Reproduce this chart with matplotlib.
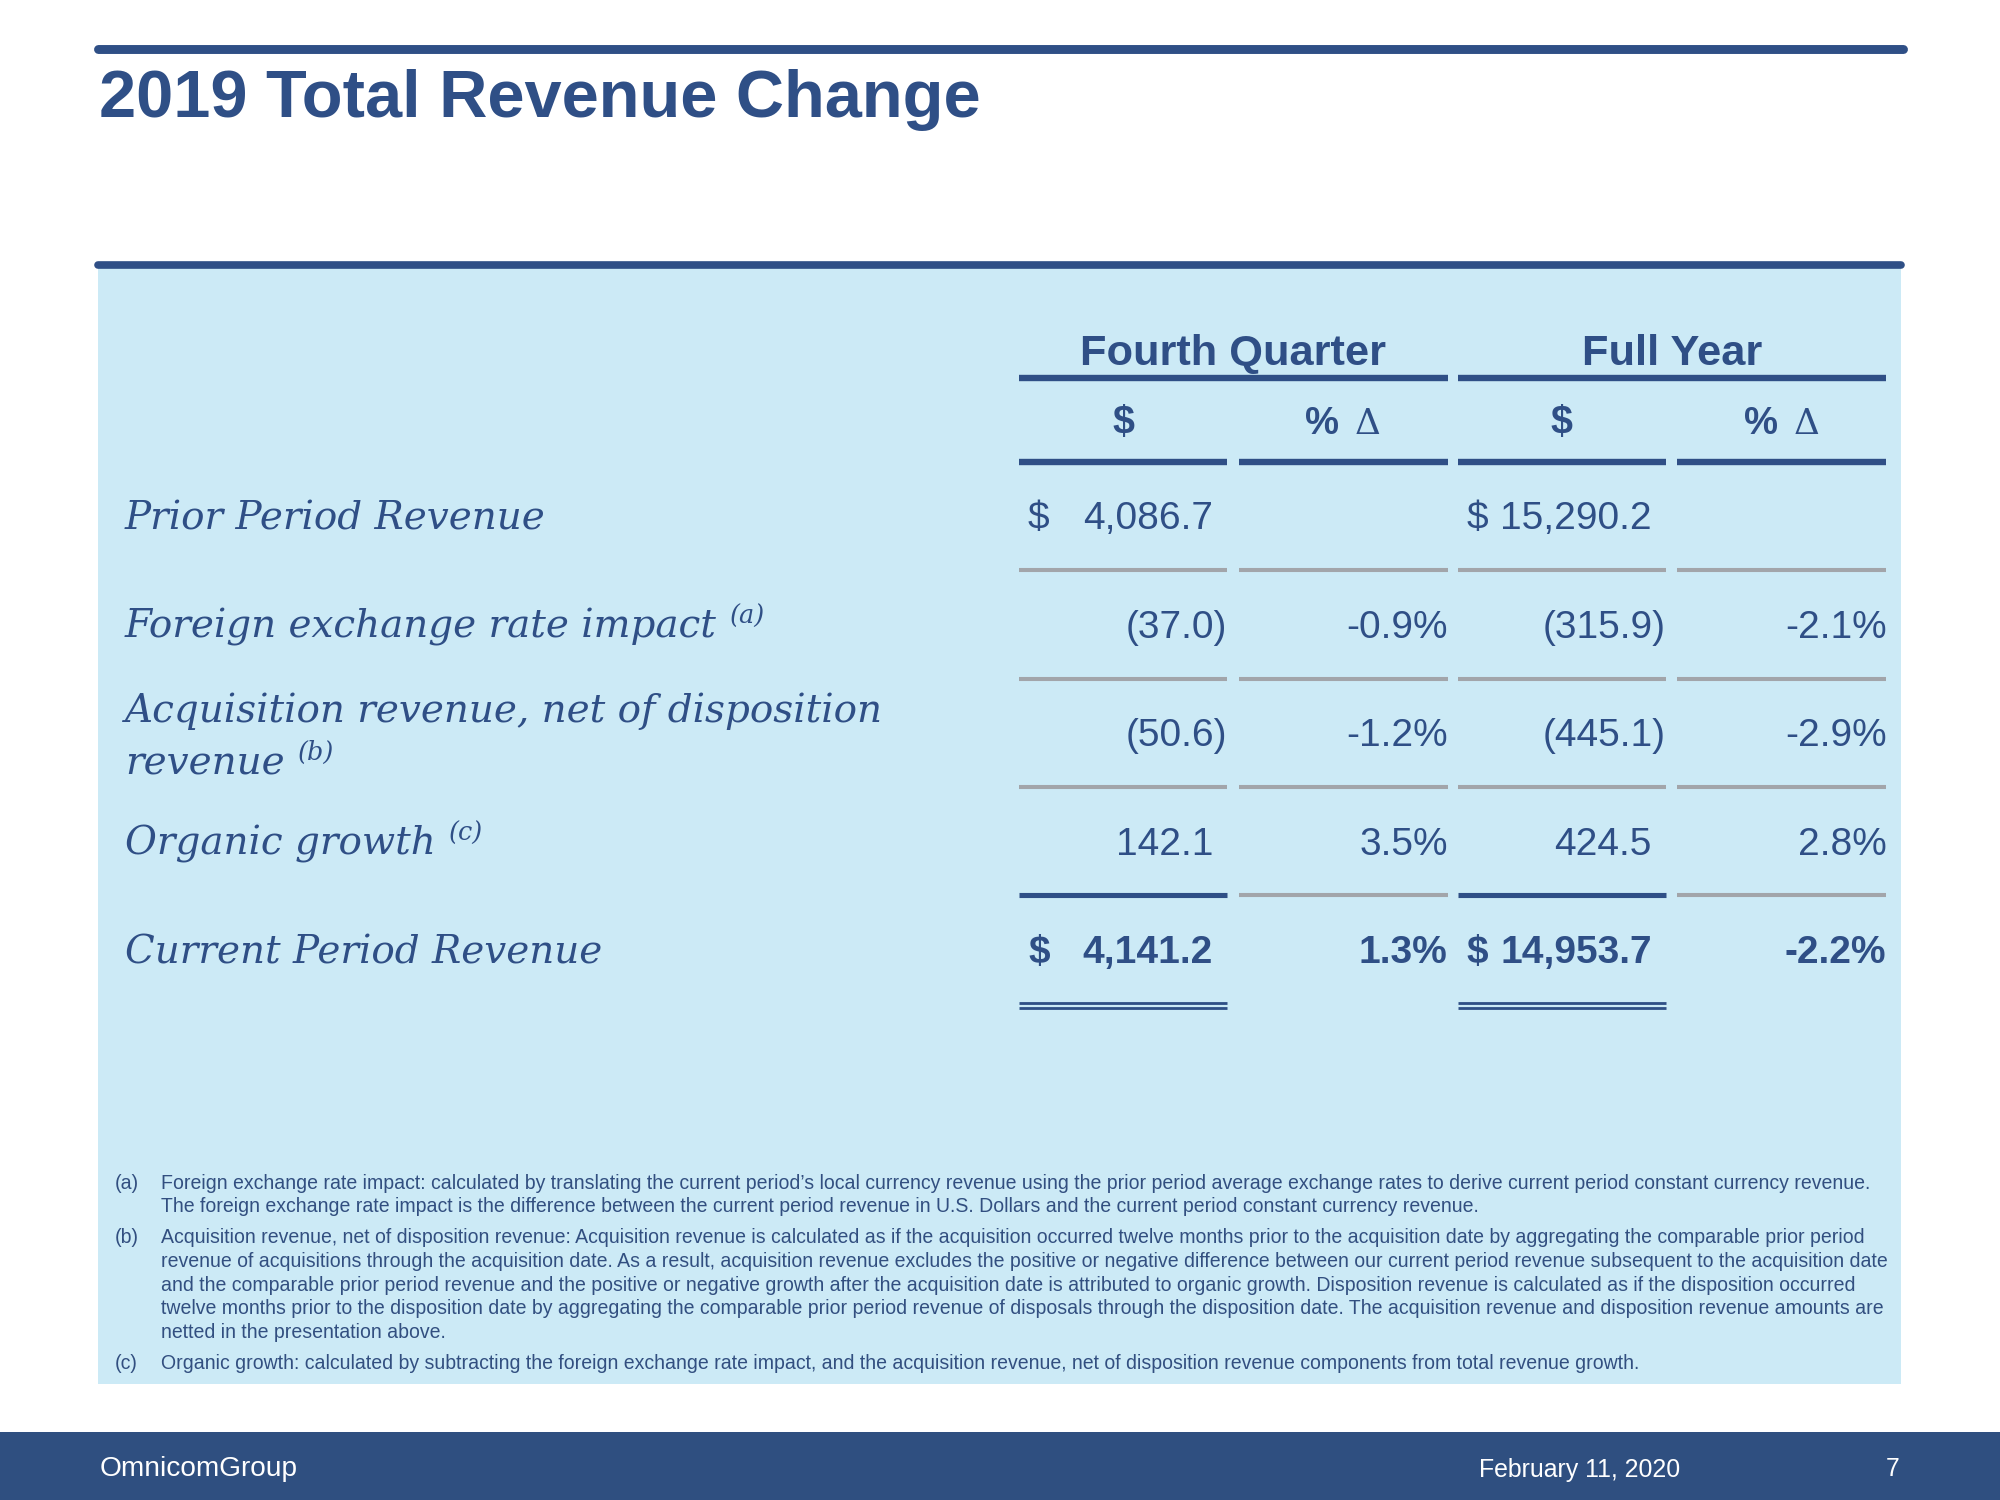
import matplotlib
matplotlib.use("Agg")
import matplotlib.pyplot as plt
from matplotlib.patches import Rectangle

# ---------------- data ----------------
title = "2019 Total Revenue Change"
period_headers = ["Fourth Quarter", "Full Year"]
sub_headers = ["$", "$"]
row_labels = ["Prior Period Revenue",
              "Foreign exchange rate impact",
              "Acquisition revenue, net of disposition\nrevenue",
              "Organic growth",
              "Current Period Revenue"]
row_notes = ["", "(a)", "(b)", "(c)", ""]
q4_dollars = [4086.7, -37.0, -50.6, 142.1, 4141.2]
q4_pct = [None, -0.9, -1.2, 3.5, 1.3]
fy_dollars = [15290.2, -315.9, -445.1, 424.5, 14953.7]
fy_pct = [None, -2.1, -2.9, 2.8, -2.2]
footnote_marks = ["(a)", "(b)", "(c)"]
footnote_lines = [
    ["Foreign exchange rate impact: calculated by translating the current period\u2019s local currency revenue using the prior period average exchange rates to derive current period constant currency revenue.",
     "The foreign exchange rate impact is the difference between the current period revenue in U.S. Dollars and the current period constant currency revenue."],
    ["Acquisition revenue, net of disposition revenue: Acquisition revenue is calculated as if the acquisition occurred twelve months prior to the acquisition date by aggregating the comparable prior period",
     "revenue of acquisitions through the acquisition date. As a result, acquisition revenue excludes the positive or negative difference between our current period revenue subsequent to the acquisition date",
     "and the comparable prior period revenue and the positive or negative growth after the acquisition date is attributed to organic growth. Disposition revenue is calculated as if the disposition occurred",
     "twelve months prior to the disposition date by aggregating the comparable prior period revenue of disposals through the disposition date. The acquisition revenue and disposition revenue amounts are",
     "netted in the presentation above."],
    ["Organic growth: calculated by subtracting the foreign exchange rate impact, and the acquisition revenue, net of disposition revenue components from total revenue growth."],
]
footer_left = "OmnicomGroup"
footer_date = "February 11, 2020"
page_number = "7"

# ---------------- style ----------------
NAVY = "#2F4F86"
PANEL = "#CCEAF6"
GRAY = "#A2A5AA"
FOOT = "#324F80"
SANS = ["Liberation Sans", "DejaVu Sans"]
SERIF = ["DejaVu Serif"]
W, H = 1568, 1176
K = 2000 / W * 0.72  # display px -> points


def pt(px):
    return px * K


fig = plt.figure(figsize=(20, 15), dpi=100)
ax = fig.add_axes([0, 0, 1, 1])
ax.set_xlim(0, W)
ax.set_ylim(H, 0)
ax.axis("off")

# top bars
ax.plot([77, 1492], [38.5, 38.5], color=NAVY, lw=pt(7), solid_capstyle="round")
ax.text(78, 92, title, fontsize=pt(52.3), fontweight="bold", color=NAVY,
        family=SANS, ha="left", va="baseline")

# panel
ax.add_patch(Rectangle((77, 210), 1413, 875, facecolor=PANEL, edgecolor="none", zorder=0))
ax.plot([77, 1490], [208, 208], color=NAVY, lw=pt(6), solid_capstyle="round")

# column geometry
spans = [(799, 962), (971, 1135), (1143, 1306), (1315, 1479)]
group_spans = [(799, 1135), (1143, 1479)]
row_y = [404, 489, 574, 659, 744]
sep_y = [447, 532, 617, 702]


def seg(x0, x1, y, color, lw):
    ax.plot([x0, x1], [y, y], color=color, lw=pt(lw), solid_capstyle="butt")


for (a, b), name in zip(group_spans, period_headers):
    ax.text((a + b) / 2, 286, name, fontsize=pt(34), fontweight="bold", color=NAVY,
            family=SANS, ha="center", va="baseline")
    seg(a, b, 296, NAVY, 5)

for i, (a, b) in enumerate(spans):
    seg(a, b, 362, NAVY, 5)
    cx = (a + b) / 2
    if i % 2 == 0:
        ax.text(cx, 340, sub_headers[i // 2], fontsize=pt(31), fontweight="bold",
                color=NAVY, family=SANS, ha="center", va="baseline")
    else:
        ax.text(cx - 3, 340, "%", fontsize=pt(30), fontweight="bold",
                color=NAVY, family=SANS, ha="right", va="baseline")
        ax.text(cx + 9, 340, "\u0394", fontsize=pt(28), color=NAVY,
                family=["DejaVu Serif"], ha="left", va="baseline")

for j, y in enumerate(sep_y):
    for i, (a, b) in enumerate(spans):
        if j == 3 and i % 2 == 0:
            seg(a, b, y, NAVY, 4)
        else:
            seg(a, b, y, GRAY, 3.2)

for i in (0, 2):
    a, b = spans[i]
    seg(a, b, 786, NAVY, 2.2)
    seg(a, b, 790.5, NAVY, 2.2)

# row labels
fig.canvas.draw()
renderer = fig.canvas.get_renderer()
inv = ax.transData.inverted()
for k, (lab, note) in enumerate(zip(row_labels, row_notes)):
    lines = lab.split("\n")
    if len(lines) == 1:
        bases = [row_y[k] + 11]
    else:
        bases = [row_y[k] - 8, row_y[k] + 33]
    t = None
    for ln, yb in zip(lines, bases):
        t = ax.text(98, yb, ln, fontsize=pt(30.5), style="italic", color=NAVY,
                    family=SERIF, ha="left", va="baseline")
    if note:
        bb = t.get_window_extent(renderer=renderer)
        xr = inv.transform((bb.x1, bb.y0))[0]
        ax.text(xr + 10, bases[-1] - 11, note, fontsize=pt(20), style="italic",
                color=NAVY, family=SERIF, ha="left", va="baseline")


def fmt_num(v):
    s = f"{abs(v):,.1f}"
    return f"({s})" if v < 0 else s


# values
for k in range(len(row_y)):
    yb = row_y[k] + 11
    bold = "bold" if k == len(row_y) - 1 else "normal"
    for ci, vals in ((0, q4_dollars), (2, fy_dollars)):
        v = vals[k]
        a, b = spans[ci]
        xr = b if v < 0 else b - 11
        ax.text(xr, yb, fmt_num(v), fontsize=pt(30.5), fontweight=bold, color=NAVY,
                family=SANS, ha="right", va="baseline")
        if k in (0, len(row_y) - 1):
            ax.text(a + 7, yb, "$", fontsize=pt(30.5), fontweight=bold, color=NAVY,
                    family=SANS, ha="left", va="baseline")
    for ci, vals in ((1, q4_pct), (3, fy_pct)):
        v = vals[k]
        if v is None:
            continue
        a, b = spans[ci]
        ax.text(b, yb, f"{v:.1f}%", fontsize=pt(30.5), fontweight=bold, color=NAVY,
                family=SANS, ha="right", va="baseline")

# footnotes
fy0 = 932
step = 18.6
y = fy0
for mark, lines in zip(footnote_marks, footnote_lines):
    ax.text(90, y, mark, fontsize=pt(15.3), color=FOOT, family=SANS,
            ha="left", va="baseline")
    for ln in lines:
        ax.text(126, y, ln, fontsize=pt(15.3), color=FOOT, family=SANS,
                ha="left", va="baseline")
        y += step
    y += 5.5

# footer band
ax.add_patch(Rectangle((0, 1123), W, H - 1123, facecolor="#2F4F80", edgecolor="none"))
ax.text(78, 1157, footer_left, fontsize=pt(22), color="white", family=SANS,
        ha="left", va="baseline")
ax.text(1238, 1158, footer_date, fontsize=pt(19.5), color="white", family=SANS,
        ha="center", va="baseline")
ax.text(1484, 1157, page_number, fontsize=pt(19.5), color="white", family=SANS,
        ha="center", va="baseline")

fig.savefig("out.png", dpi=100, facecolor="white")
